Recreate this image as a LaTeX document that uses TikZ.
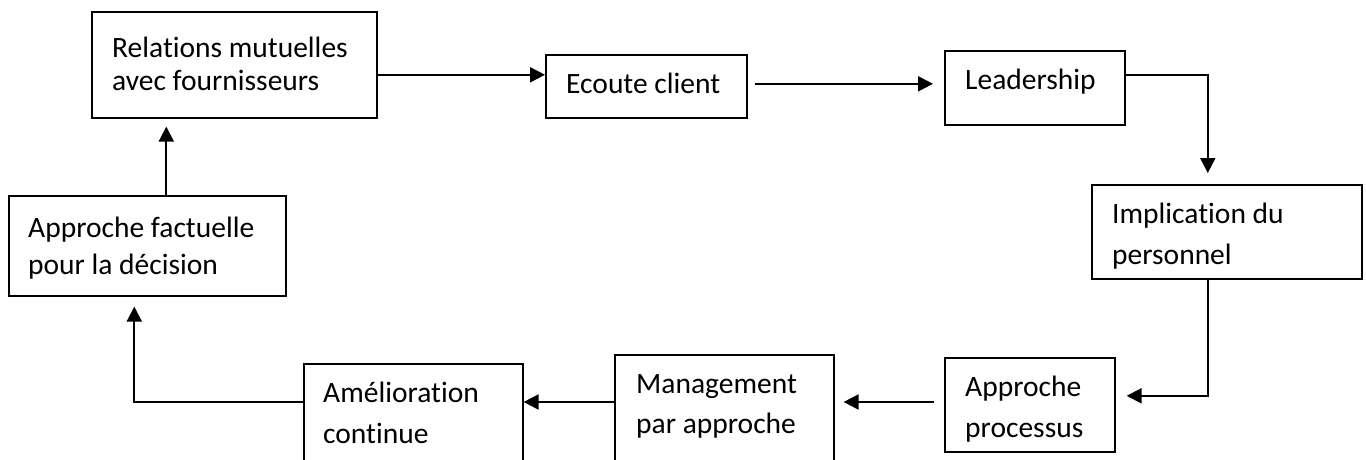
\documentclass[tikz,border=0pt]{standalone}
\usepackage{fontspec}
\setmainfont{Carlito}[RawFeature={-liga;-clig}]
\usetikzlibrary{arrows.meta}
\tikzset{
  box/.style={draw=black, line width=1.6pt, rectangle, inner sep=0pt, anchor=north west},
  txt/.style={inner sep=0pt, anchor=base west, font=\fontsize{29.5}{35}\selectfont},
  arr/.style={line width=2pt, -{Triangle[length=15pt,width=15pt]}},
  ln/.style={line width=2pt}
}
\begin{document}
\begin{tikzpicture}[x=1pt,y=-1pt]
\useasboundingbox (0,0) rectangle (1366,459);
\clip (0,0) rectangle (1366,459);
% boxes
\node[box, minimum width=285pt, minimum height=106pt] (A) at (91,11) {};
\node[box, minimum width=201pt, minimum height=63pt] (E) at (545,54) {};
\node[box, minimum width=180pt, minimum height=74pt] (L) at (944,50) {};
\node[box, minimum width=270pt, minimum height=94pt] (I) at (1091,184) {};
\node[box, minimum width=170pt, minimum height=94pt] (P) at (944,357) {};
\node[box, minimum width=219pt, minimum height=120pt] (M) at (614,354) {};
\node[box, minimum width=219pt, minimum height=120pt] (Am) at (303,363) {};
\node[box, minimum width=277pt, minimum height=100pt] (F) at (8,195) {};
% texts
\node[txt] (A1) at (112,57) {Relations mutuelles};
\node[txt] (A2) at (112,90) {avec fournisseurs};
\node[txt] (E1) at (566,93) {Ecoute client};
\node[txt] (L1) at (965,89) {Leadership};
\node[txt] (I1) at (1112,223) {Implication du};
\node[txt] (I2) at (1112,264) {personnel};
\node[txt] (P1) at (965,396) {Approche};
\node[txt] (P2) at (965,437) {processus};
\node[txt] (M1) at (636,393) {Management};
\node[txt] (M2) at (636,433) {par approche};
\node[txt] (Am1) at (323,402) {Amélioration};
\node[txt] (Am2) at (323,443) {continue};
\node[txt] (F1) at (28,237) {Approche factuelle};
\node[txt] (F2) at (28,274) {pour la décision};
% connectors
\coordinate (a1) at ([yshift=-10pt]A.east);
\draw[arr] (a1) -- (E.west |- a1);
\coordinate (e1) at ([xshift=7pt,yshift=2.5pt]E.east);
\draw[arr] (e1) -- ([xshift=-11pt]L.west |- e1);
\coordinate (l1) at ([yshift=13pt]L.east);
\draw[arr] (l1) -| ([xshift=-19pt,yshift=11pt]I.north);
\coordinate (i1) at ([xshift=-19pt]I.south);
\draw[arr] (i1) |- ([xshift=11pt,yshift=9pt]P.east);
\coordinate (p1) at ([xshift=-10pt]P.west |- 0,402);
\draw[arr] (p1) -- ([xshift=9pt]M.east |- p1);
\coordinate (m1) at (M.west |- 0,402);
\draw[arr] (m1) -- (Am.east |- m1);
\coordinate (am1) at (Am.west |- 0,402);
\draw[arr] (am1) -| ([xshift=-13pt,yshift=-10pt]F.south);
\coordinate (f1) at ([xshift=19pt]F.north);
\draw[arr] (f1) -- ([yshift=-8pt]A.south -| f1);
\end{tikzpicture}
\end{document}
